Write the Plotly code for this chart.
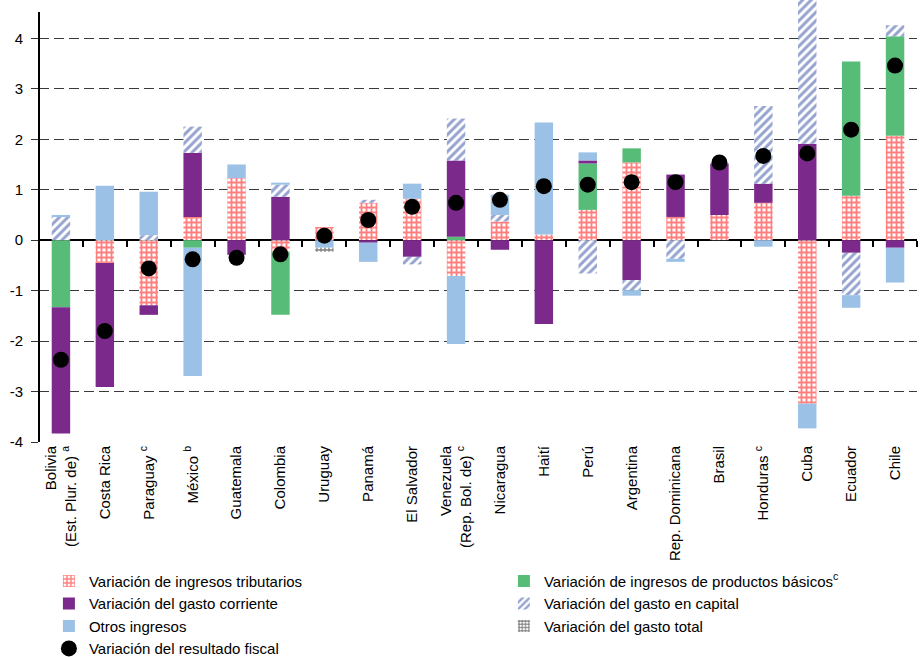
import plotly.graph_objects as go

countries = [
    "Bolivia<br>(Est. Plur. de) <sup>a</sup>", "Costa Rica", "Paraguay <sup>c</sup>", "México <sup>b</sup>",
    "Guatemala", "Colombia", "Uruguay", "Panamá", "El Salvador",
    "Venezuela<br>(Rep. Bol. de) <sup>c</sup>", "Nicaragua", "Haití", "Perú", "Argentina",
    "Rep. Dominicana", "Brasil", "Honduras <sup>c</sup>", "Cuba", "Ecuador", "Chile",
]

ingresos_tributarios = [None, -0.45, -1.29, 0.46, 1.23, -0.23, 0.26, 0.74, 0.82, -0.71,
                        0.37, 0.11, 0.60, 1.54, 0.46, 0.50, 0.74, -3.24, 0.88, 2.07]
productos_basicos = [-1.33, None, None, -0.15, None, -1.25, None, None, None, 0.07,
                     None, None, 0.92, 0.28, None, None, None, None, 2.66, 1.97]
gasto_corriente = [-2.50, -2.46, -0.19, 1.27, -0.29, 0.86, None, -0.05, -0.33, 1.51,
                   -0.19, -1.66, 0.06, -0.79, 0.84, 1.02, 0.38, 1.91, -0.25, -0.15]
gasto_capital = [0.47, None, 0.10, 0.52, None, 0.24, None, 0.06, -0.15, 0.83,
                 0.13, None, -0.66, -0.20, -0.37, None, 1.54, 2.90, -0.84, 0.22]
otros_ingresos = [0.03, 1.08, 0.86, -2.54, 0.27, 0.04, -0.15, -0.38, 0.30, -1.35,
                  0.40, 2.22, 0.16, -0.11, -0.06, None, -0.13, -0.49, -0.25, -0.69]
gasto_total = [None, None, None, None, None, None, -0.08, None, None, None,
               None, None, None, None, None, None, None, None, None, None]
resultado_fiscal = [-2.37, -1.80, -0.56, -0.38, -0.35, -0.28, 0.09, 0.40, 0.66, 0.74,
                    0.80, 1.07, 1.10, 1.15, 1.15, 1.54, 1.67, 1.72, 2.19, 3.46]

y_ticks = [-4, -3, -2, -1, 0, 1, 2, 3, 4]
y_min, y_max = -4, 4.76

FONT = "Liberation Sans, Arial, sans-serif"
BAR_W = 0.42

fig = go.Figure()

def add_bar(name, values, color=None, pattern=None):
    marker = dict(line=dict(width=0))
    if pattern:
        marker["color"] = "white"
        marker["pattern"] = pattern
    else:
        marker["color"] = color
    fig.add_trace(go.Bar(x=countries, y=values, name=name, width=BAR_W, marker=marker))

add_bar("Variación de ingresos tributarios", ingresos_tributarios,
        pattern=dict(shape="+", fgcolor="#FF0000", bgcolor="white", size=5, solidity=0.6, fillmode="overlay"))
add_bar("Variación de ingresos de productos básicos<sup>c</sup>", productos_basicos, color="#57BC78")
add_bar("Variación del gasto corriente", gasto_corriente, color="#7B2A8C")
add_bar("Variación del gasto en capital", gasto_capital,
        pattern=dict(shape="/", fgcolor="#2B47A0", bgcolor="white", size=6, solidity=0.5, fillmode="overlay"))
add_bar("Otros ingresos", otros_ingresos, color="#9BC2E6")
add_bar("Variación del gasto total", gasto_total,
        pattern=dict(shape="+", fgcolor="black", bgcolor="white", size=4, solidity=0.55, fillmode="overlay"))

fig.add_trace(go.Scatter(
    x=countries, y=resultado_fiscal, mode="markers", name="Variación del resultado fiscal",
    marker=dict(color="black", size=16), xaxis="x2", yaxis="y",
))

zero_pos = (0 - y_min) / (y_max - y_min)

fig.update_layout(
    width=920, height=657,
    margin=dict(l=39, r=3, t=0, b=215, autoexpand=False),
    paper_bgcolor="white", plot_bgcolor="white",
    barmode="relative",
    font=dict(family=FONT, color="black"),
    showlegend=True,
    xaxis=dict(
        type="category", categoryorder="array", categoryarray=countries,
        tickangle=-90, tickfont=dict(size=15, family=FONT),
        showline=False, ticks="", showgrid=False, zeroline=False,
        range=[-0.5, len(countries) - 0.5],
    ),
    xaxis2=dict(
        type="category", categoryorder="array", categoryarray=countries,
        overlaying="x", anchor="free", position=zero_pos,
        range=[-0.5, len(countries) - 0.5],
        showticklabels=False, showgrid=False, zeroline=False, showline=False,
        ticks="outside", tickson="boundaries", ticklen=6, tickwidth=2, tickcolor="black",
    ),
    yaxis=dict(
        range=[y_min, y_max], tickvals=y_ticks, ticktext=[str(v) for v in y_ticks],
        tickfont=dict(size=15, family=FONT), ticklabelstandoff=5,
        showgrid=True, gridcolor="#3a3a3a", griddash="10px,5px", gridwidth=1.3,
        zeroline=True, zerolinecolor="black", zerolinewidth=2,
        ticks="outside", ticklen=7, tickcolor="#333333", tickwidth=1.3,
        showline=False,
    ),
    legend=dict(
        orientation="h", x=-0.0001, xanchor="left", y=-0.2775, yanchor="top",
        entrywidth=400, entrywidthmode="pixels", indentation=10,
        font=dict(size=15, family=FONT), traceorder="normal",
        bgcolor="rgba(0,0,0,0)", itemwidth=30,
    ),
)

# vertical y-axis line (stops at the top of the value scale)
fig.add_shape(type="line", xref="paper", yref="y", x0=0, x1=0, y0=y_min, y1=4.52,
              line=dict(color="black", width=2))

fig.write_html("out.html", config={"displayModeBar": False},
               post_script="document.body.style.margin='0px';")
